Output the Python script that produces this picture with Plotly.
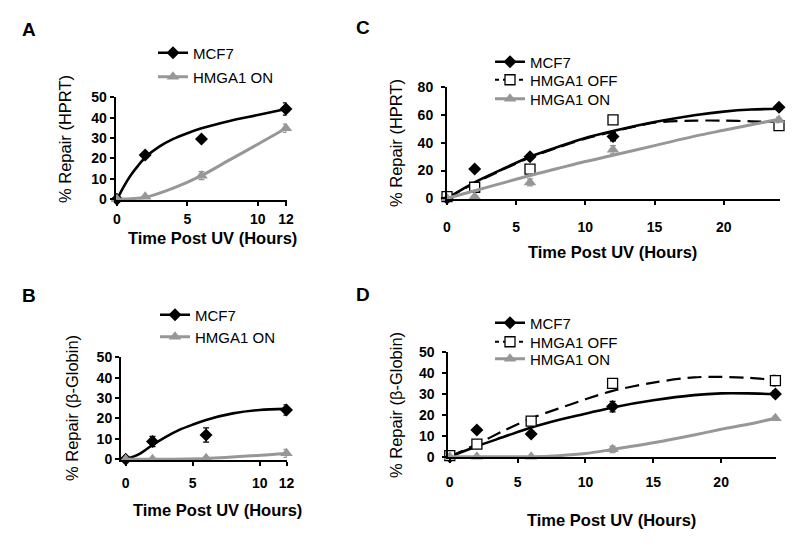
import plotly.graph_objects as go

# ---------------- data ----------------
hours_12 = [0, 2, 6, 12]
hours_24 = [0, 2, 6, 12, 24]

# Panel A  (HPRT, 12 h)
A_mcf7 = [0, 21.7, 29.6, 44.3]
A_mcf7_err = [0, 1, 0.8, 3]
A_on = [0, 1.2, 11.6, 34.8]
A_on_err = [0, 0.5, 2, 2]
A_mcf7_fit_x = [0, 0.5, 1, 1.5, 2, 3, 4, 5, 6, 8, 10, 12]
A_mcf7_fit = [0, 6.5, 12, 16.5, 20.5, 25.8, 29.6, 32.4, 34.8, 38.4, 41.3, 44.3]
A_on_fit_x = [0, 2, 4, 6, 8, 10, 12]
A_on_fit = [0, 1, 5.5, 11.6, 19.3, 27, 34.8]

# Panel B  (beta-globin, 12 h)
B_mcf7 = [0, 8.7, 11.9, 24.2]
B_mcf7_err = [0.5, 2.5, 3.5, 2.5]
B_on = [0, 0, 0.5, 2.9]
B_on_err = [0, 0, 0.5, 2]
B_mcf7_fit_x = [0, 1, 2, 3, 4, 5, 6, 8, 10, 12]
B_mcf7_fit = [0, 2.5, 7, 11, 14.4, 17, 19.3, 22.5, 24.2, 24.7]
B_on_fit_x = [0, 2, 6, 12]
B_on_fit = [0, 0, 0.4, 2.8]

# Panel C  (HPRT, 24 h)
C_mcf7 = [0, 21.2, 30, 44.5, 65.6]
C_mcf7_err = [0, 1, 1.5, 3, 1.5]
C_off = [1.2, 8, 21, 56.5, 52.4]
C_off_err = [0, 0, 0, 0, 2]
C_on = [0, 1.2, 11.5, 35, 56.5]
C_on_err = [0, 0.5, 2.5, 3, 2]
C_fit_x = [0, 2, 4, 6, 8, 10, 12, 15, 18, 20, 22, 24]
C_mcf7_fit = [0, 11.5, 21, 30, 37, 43.5, 48.5, 55, 60, 62.5, 64, 64.5]
C_off_fit = [0, 11, 20.5, 29.5, 36.5, 43, 48, 54.5, 56, 56, 55.5, 55]
C_on_fit = [0, 5.5, 11, 16.5, 21.5, 26.5, 31, 38, 45, 49, 53, 57]

# Panel D  (beta-globin, 24 h)
D_mcf7 = [0, 12.8, 10.9, 24, 30]
D_mcf7_err = [0, 1, 1, 2.5, 1.5]
D_off = [0.5, 6, 17, 35.1, 36.4]
D_off_err = [0, 0, 0, 0, 2.5]
D_on = [0, 0, 0, 3.5, 18.4]
D_on_err = [0, 0, 0, 1.5, 1]
D_fit_x = [0, 2, 4, 6, 8, 10, 12, 15, 18, 20, 22, 24]
D_mcf7_fit = [0, 5, 9.5, 14, 17.6, 20.6, 23.6, 27, 29.5, 30.3, 30.3, 30]
D_off_fit = [0, 6, 12.5, 18.4, 23, 27.5, 31.5, 35.5, 38, 38.2, 37.8, 36.7]
D_on_fit = [0, 0, 0, 0, 0.5, 1.5, 3.5, 6.7, 10.4, 13.1, 15.5, 18.4]

x_ticks_12 = [0, 5, 10, 12]
x_ticks_24 = [0, 5, 10, 15, 20]
y_ticks_50 = [0, 10, 20, 30, 40, 50]
y_ticks_80 = [0, 20, 40, 60, 80]

# ---------------- styles ----------------
W, H = 800, 554
BLACK = "#000000"
GRAY = "#979797"
FONT = "Liberation Sans, Arial, sans-serif"

def px(x):
    return x / W

def py(y):
    return 1 - y / H

fig = go.Figure()

def add_series(xs, ys, err, fit_x, fit_y, kind, ax, legend_name, legend_id):
    xa = "x" if ax == 1 else f"x{ax}"
    ya = "y" if ax == 1 else f"y{ax}"
    if kind == "mcf7":
        color, dash, lw = BLACK, "solid", 2.6
        leg_dash = "solid"
        mk = dict(symbol="diamond", size=10, color=BLACK)
    elif kind == "off":
        color, dash, lw = BLACK, "14px,7px", 2.2
        leg_dash = "4px,4px"
        mk = dict(symbol="square", size=10, color="white",
                  line=dict(color=BLACK, width=1.3))
    else:
        color, dash, lw = GRAY, "solid", 3
        leg_dash = "solid"
        mk = dict(symbol="triangle-up", size=11, color=GRAY)
    fig.add_trace(go.Scatter(
        x=fit_x, y=fit_y, mode="lines", xaxis=xa, yaxis=ya,
        line=dict(color=color, width=lw, dash=dash, shape="spline", smoothing=0.8),
        showlegend=False, hoverinfo="skip", cliponaxis=False))
    fig.add_trace(go.Scatter(
        x=xs, y=ys, mode="markers", xaxis=xa, yaxis=ya,
        marker=mk,
        error_y=dict(type="data", array=err, visible=True, color=color,
                     thickness=1.3, width=3),
        showlegend=False, cliponaxis=False))
    fig.add_trace(go.Scatter(
        x=[None], y=[None], mode="lines+markers", xaxis=xa, yaxis=ya,
        name=legend_name, legend=legend_id,
        line=dict(color=color, width=lw, dash=leg_dash),
        marker=mk, showlegend=True))

add_series(hours_12, A_mcf7, A_mcf7_err, A_mcf7_fit_x, A_mcf7_fit, "mcf7", 1, "MCF7", "legend")
add_series(hours_12, A_on, A_on_err, A_on_fit_x, A_on_fit, "on", 1, "HMGA1 ON", "legend2")

add_series(hours_12, B_mcf7, B_mcf7_err, B_mcf7_fit_x, B_mcf7_fit, "mcf7", 2, "MCF7", "legend3")
add_series(hours_12, B_on, B_on_err, B_on_fit_x, B_on_fit, "on", 2, "HMGA1 ON", "legend4")

add_series(hours_24, C_mcf7, C_mcf7_err, C_fit_x, C_mcf7_fit, "mcf7", 3, "MCF7", "legend5")
add_series(hours_24, C_off, C_off_err, C_fit_x, C_off_fit, "off", 3, "HMGA1 OFF", "legend6")
add_series(hours_24, C_on, C_on_err, C_fit_x, C_on_fit, "on", 3, "HMGA1 ON", "legend7")

add_series(hours_24, D_mcf7, D_mcf7_err, D_fit_x, D_mcf7_fit, "mcf7", 4, "MCF7", "legend8")
add_series(hours_24, D_off, D_off_err, D_fit_x, D_off_fit, "off", 4, "HMGA1 OFF", "legend9")
add_series(hours_24, D_on, D_on_err, D_fit_x, D_on_fit, "on", 4, "HMGA1 ON", "legend10")

tickfont = dict(family=FONT, size=14, color=BLACK, weight="bold")

def xaxis(dom, rng, tv, anchor, standoff):
    return dict(domain=[px(dom[0]), px(dom[1])], range=rng, tickvals=tv,
                anchor=anchor, showline=True, linecolor=BLACK, linewidth=2,
                ticks="outside", ticklen=4, tickwidth=1.5, tickcolor=BLACK,
                showgrid=False, zeroline=False, tickfont=tickfont,
                ticklabelstandoff=standoff, automargin=False, fixedrange=True)

def yaxis(dom, rng, tv, anchor, standoff):
    return dict(domain=[py(dom[1]), py(dom[0])], range=rng, tickvals=tv,
                anchor=anchor, showline=True, linecolor=BLACK, linewidth=2,
                ticks="outside", ticklen=4, tickwidth=1.5, tickcolor=BLACK,
                showgrid=False, zeroline=False, tickfont=tickfont,
                ticklabelstandoff=standoff, automargin=False, fixedrange=True)

legfont = dict(family=FONT, size=15, color=BLACK)

def legend(text_x, row_y):
    # text_x: left edge of the legend text, row_y: vertical centre of the row (pixels)
    return dict(x=px(text_x - 42), y=py(row_y), xanchor="left", yanchor="middle",
                bgcolor="rgba(0,0,0,0)", borderwidth=0, font=legfont,
                itemwidth=30, tracegroupgap=0)

fig.update_layout(
    template="none",
    width=W, height=H, margin=dict(l=0, r=0, t=0, b=0, autoexpand=False),
    paper_bgcolor="white", plot_bgcolor="white",
    xaxis=xaxis((115.6, 286.5), [-0.1, 12.04], x_ticks_12, "y", 1),
    yaxis=yaxis((97.3, 199.9), [-0.3, 50], y_ticks_50, "x", 0),
    xaxis2=xaxis((121, 286.9), [-0.35, 12.03], x_ticks_12, "y2", 5),
    yaxis2=yaxis((357.3, 459.9), [-0.3, 50], y_ticks_50, "x2", 0),
    xaxis3=xaxis((447, 779.7), [0, 24.05], x_ticks_24, "y3", 10),
    yaxis3=yaxis((87.3, 198.9), [-0.4, 80], y_ticks_80, "x3", 5),
    xaxis4=xaxis((448.4, 776.1), [-0.1, 24.05], x_ticks_24, "y4", 7),
    yaxis4=yaxis((352.3, 457.3), [-0.3, 50], y_ticks_50, "x4", 5),
    legend=legend(195, 53),
    legend2=legend(195, 77),
    legend3=legend(197, 315),
    legend4=legend(197, 337),
    legend5=legend(532, 62),
    legend6=legend(532, 80),
    legend7=legend(532, 99),
    legend8=legend(532, 323),
    legend9=legend(532, 342),
    legend10=legend(532, 359),
)

annots = []
for letter, (lx, ly) in {"A": (29, 30), "B": (29, 295), "C": (363, 27), "D": (363, 294)}.items():
    annots.append(dict(text=f"<b>{letter}</b>", x=px(lx), y=py(ly), xref="paper", yref="paper",
                       xanchor="center", yanchor="middle", showarrow=False,
                       font=dict(family=FONT, size=19, color=BLACK)))

xtitle = "<b>Time Post UV (Hours)</b>"
for (tx, ty) in [(212, 238), (217, 510), (612, 252), (611, 520)]:
    annots.append(dict(text=xtitle, x=px(tx), y=py(ty), xref="paper", yref="paper",
                       xanchor="center", yanchor="middle", showarrow=False,
                       font=dict(family=FONT, size=16.5, color=BLACK)))

for (t, tx, ty) in [("% Repair (HPRT)", 65, 139), ("% Repair (β-Globin)", 72, 408),
                    ("% Repair (HPRT)", 396, 143), ("% Repair (β-Globin)", 396, 405)]:
    annots.append(dict(text=t, x=px(tx), y=py(ty), xref="paper", yref="paper",
                       xanchor="center", yanchor="middle", showarrow=False, textangle=-90,
                       font=dict(family=FONT, size=16.5, color=BLACK)))

fig.update_layout(annotations=annots)
fig.write_html("out.html", config={"displayModeBar": False},
               post_script="document.body.style.margin='0px';")
